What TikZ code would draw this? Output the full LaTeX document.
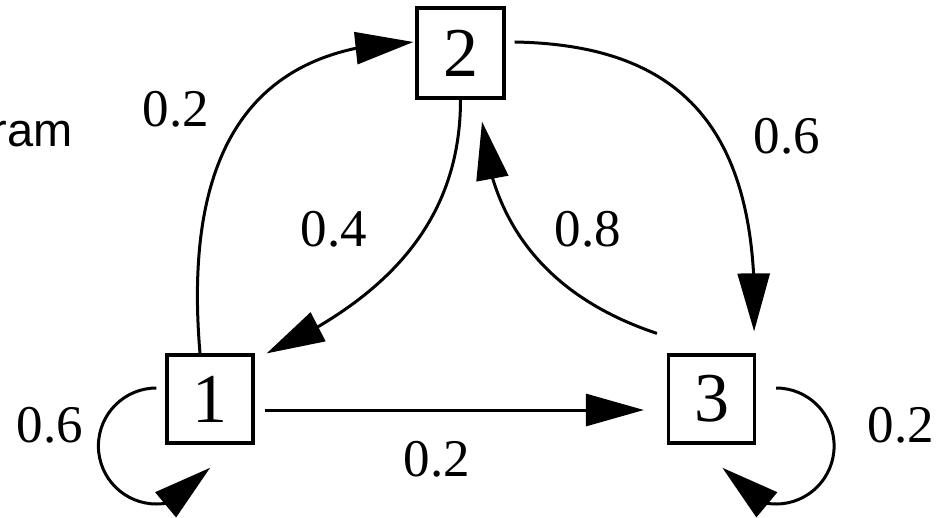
\documentclass[tikz,border=0pt]{standalone}
\usepackage{fontspec}
\setmainfont{Liberation Serif}
\newfontfamily\labsans{Liberation Sans}
\usetikzlibrary{arrows.meta,bending}
\begin{document}
\begin{tikzpicture}[x=0.5pt,y=0.5pt,
  state/.style={draw, line width=1.6pt, minimum width=43pt, minimum height=44pt, inner sep=0pt, font=\fontsize{35}{35}\selectfont},
  edge/.style={line width=1.5pt, -{Triangle[length=29pt,width=16pt]}},
  lab/.style={font=\fontsize{26.5}{26.5}\selectfont, inner sep=0pt}]
\useasboundingbox (0,0) rectangle (946,-518);
\node[font=\labsans\fontsize{23.5}{23.5}\selectfont, anchor=base east, inner sep=0pt] (title) at (73,-147) {ram};
\node[state] (n1) at (210,-399) {1};
\node[state, minimum width=43.5pt, minimum height=45pt] (n2) at (460.5,-53) {2};
\node[state] (n3) at (711.5,-399) {3};
% edges
\draw[edge] ([xshift=-5pt]n1.north) .. controls +(-20,235) and +(-135,-3) .. ([shift={(-1pt,5.5pt)}]n2.west);
\draw[edge] (n2.south) .. controls +(0,-122) and +(120,55) .. ([xshift=6pt]n1.north east);
\draw[edge] ([shift={(-5pt,10pt)}]n3.north west) .. controls +(-90,30) and +(10,-120) .. ([shift={(10.75pt,-11pt)}]n2.south);
\draw[edge] ([shift={(4.5pt,5.5pt)}]n2.east) .. controls +(167,-3) and +(7,203) .. ([shift={(-1pt,11pt)}]n3.north east);
\draw[edge] ([shift={(5pt,-5.5pt)}]n1.east) -- ([shift={(-11.5pt,-5.5pt)}]n3.west);
\draw[edge] ([shift={(-4.5pt,5.5pt)}]n1.west) arc[start angle=90, end angle=338, radius=29pt];
\draw[edge] ([shift={(10pt,5.5pt)}]n3.east) arc[start angle=90, end angle=-158, radius=29pt];
% labels
\node[lab] (l12) at (176,-109) {0.2};
\node[lab] (l23) at (787,-136) {0.6};
\node[lab] (l21) at (334,-229) {0.4};
\node[lab] (l32) at (588,-229) {0.8};
\node[lab] (l13) at (437,-459) {0.2};
\node[lab] (l11) at (50,-425) {0.6};
\node[lab] (l33) at (901,-425) {0.2};
\end{tikzpicture}
\end{document}
